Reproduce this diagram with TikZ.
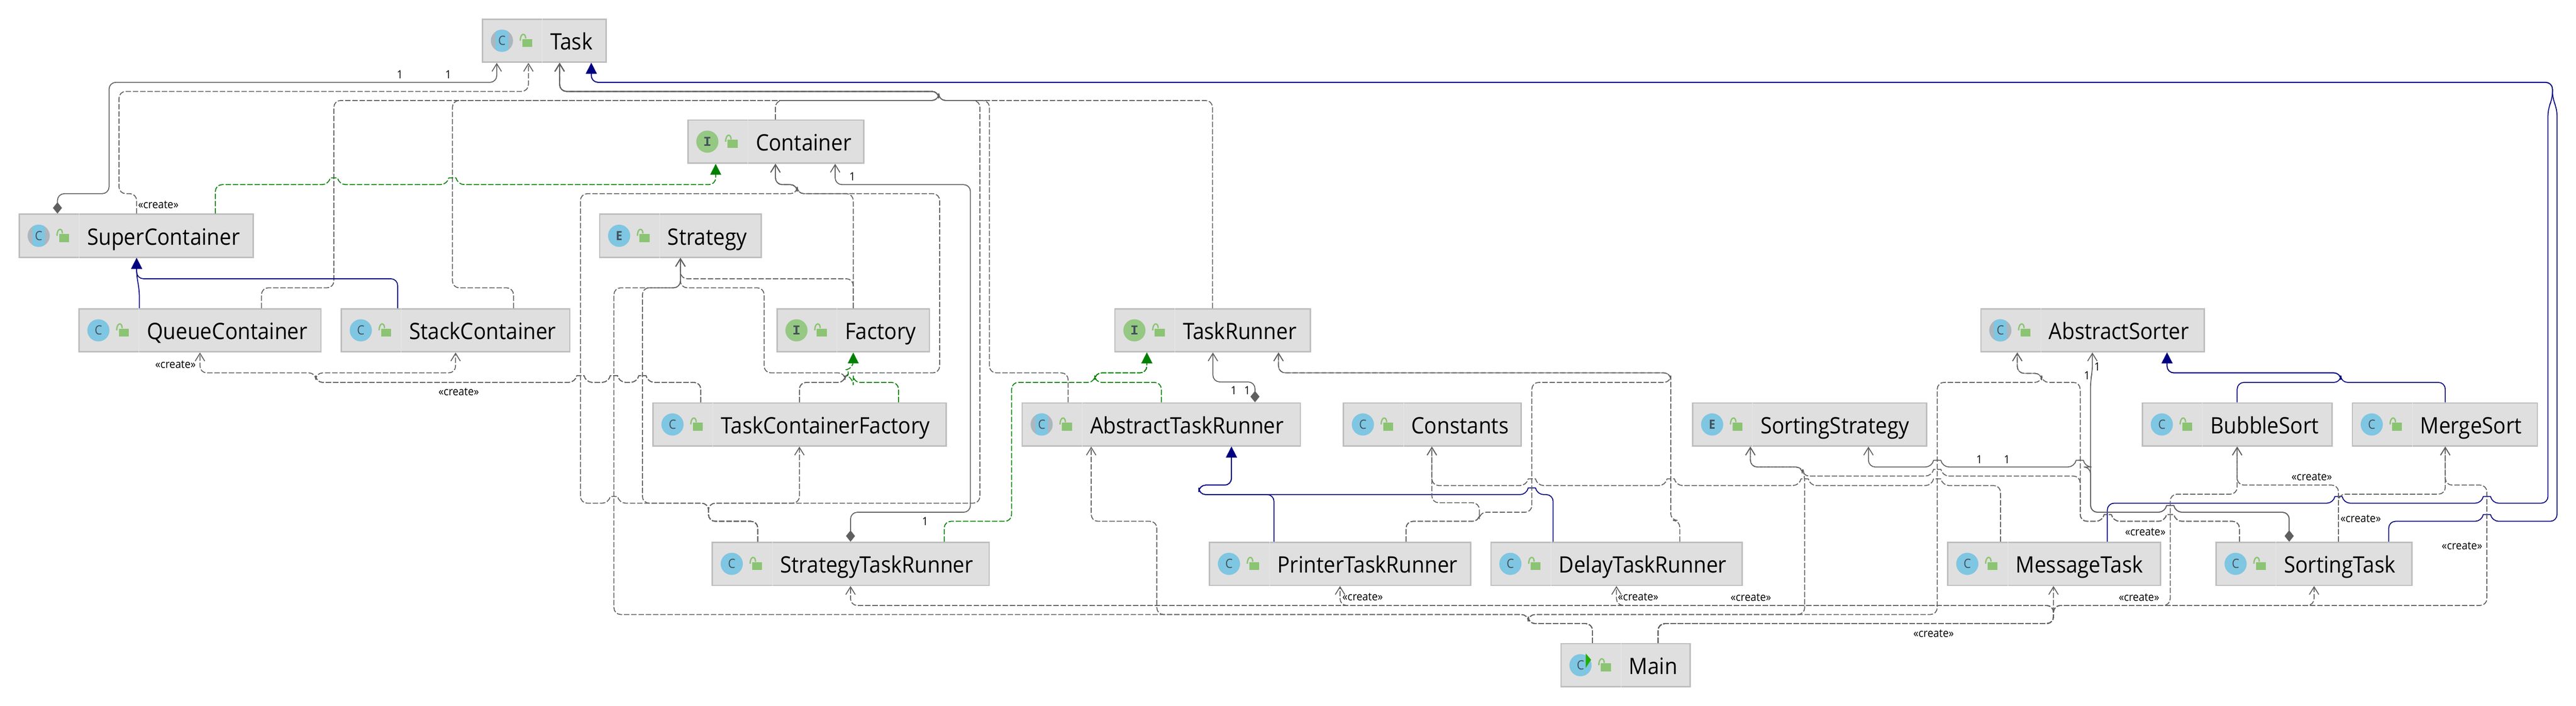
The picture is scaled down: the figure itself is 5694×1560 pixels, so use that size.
\documentclass[tikz,border=0pt]{standalone}
\usepackage{fontspec}
\setmainfont[FakeStretch=0.92]{Open Sans}
\newfontfamily\monoletter{Liberation Mono}
\usetikzlibrary{arrows.meta}

\definecolor{boxfill}{HTML}{DFDFDF}
\definecolor{boxline}{HTML}{BEBEBE}
\definecolor{boxdivider}{HTML}{E6E6E6}
\definecolor{edgegray}{HTML}{5F5F5F}
\definecolor{iconblue}{HTML}{7EC6E2}
\definecolor{icongreen}{HTML}{95C883}
\definecolor{icongray}{HTML}{ACB6BE}
\definecolor{letterink}{HTML}{43505A}
\definecolor{lockgreen}{HTML}{8BC473}
\definecolor{navyline}{HTML}{000080}
\definecolor{greenline}{HTML}{008000}

\tikzset{
  classbox/.style={draw=boxline, fill=boxfill, line width=3pt, inner sep=0pt},
  classname/.style={anchor=base west, inner sep=0pt, font=\fontsize{50}{60}\selectfont},
  classicon/.style={circle, fill=iconblue, minimum size=49pt, inner sep=0pt,
    text=letterink, font=\fontsize{28}{30}\selectfont},
  abstracticon/.style={classicon, fill=icongray, path picture={
    \fill[iconblue] ([xshift=-14pt,yshift=-30pt]path picture bounding box.center)
      rectangle ([xshift=14pt,yshift=30pt]path picture bounding box.center);}},
  interfaceicon/.style={classicon, fill=icongreen, font=\monoletter\bfseries\fontsize{30}{30}\selectfont},
  enumicon/.style={classicon, font=\bfseries\fontsize{28}{30}\selectfont},
  note/.style={inner sep=0pt, font=\fontsize{25}{28}\selectfont},
  dep/.style={draw=edgegray, line width=2pt, rounded corners=15pt,
    dash pattern=on 12pt off 4pt, -{Straight Barb[length=17pt,width=21pt,line width=2pt]}},
  comp/.style={draw=edgegray, line width=2pt, rounded corners=15pt,
    {Diamond[length=25pt,width=20pt,fill=edgegray]}-{Straight Barb[length=17pt,width=21pt,line width=2pt]}},
  ext/.style={draw=navyline, line width=2pt, rounded corners=15pt,
    -{Triangle[length=24pt,width=24pt,fill=navyline]}},
  impl/.style={draw=greenline, line width=2pt, rounded corners=15pt,
    dash pattern=on 12pt off 4pt, -{Triangle[length=24pt,width=24pt,fill=greenline]}},
}

\begin{document}
\begin{tikzpicture}[x=1pt,y=-1pt]
  \useasboundingbox (0,0) rectangle (5694,1560);

  % name, left, right, top, icon style, letter, label
  \newcommand\umlclass[7]{
    \node[classbox, minimum width={(#3-#2-3)*1pt}, minimum height=95pt]
      (#1) at ({(#2+#3)/2},#4+49) {};
    \draw[boxdivider, line width=1pt] ([xshift=134pt]#1.north west) -- ([xshift=134pt]#1.south west);
    \node[#5] (#1icon) at ([xshift=44.5pt]#1.west) {#6};
    \fill[lockgreen] ([xshift=89.5pt,yshift=4pt]#1.west) rectangle ([xshift=111.5pt,yshift=-14pt]#1.west);
    \draw[lockgreen, line width=3pt] ([xshift=85pt]#1.west)
      .. controls ([xshift=85pt,yshift=18pt]#1.west) and ([xshift=97pt,yshift=18pt]#1.west)
      .. ([xshift=97pt,yshift=5pt]#1.west);
    \node[classname] (#1label) at ([xshift=151.5pt,yshift=-20pt]#1.west) {#7};
  }
  % bump of a line over a crossing one: x, y, direction
  \newcommand\hump[3]{-- ({#1-#3*11},#2) .. controls ({#1-#3*8},#2-15) and ({#1+#3*8},#2-15) .. ({#1+#3*11},#2)}

  %% top rows
  \umlclass{Task}{1065}{1341}{41}{abstracticon}{C}{Task}
  \umlclass{Container}{1519}{1911}{264}{interfaceicon}{I}{Container}
  \umlclass{SuperContainer}{41}{561}{472}{abstracticon}{C}{SuperContainer}
  \umlclass{Strategy}{1324}{1684}{472}{enumicon}{E}{Strategy}
  \umlclass{QueueContainer}{173}{711}{681}{classicon}{C}{QueueContainer}
  \umlclass{StackContainer}{753}{1261}{681}{classicon}{C}{StackContainer}
  \umlclass{Factory}{1716}{2056}{681}{interfaceicon}{I}{Factory}
  \umlclass{TaskRunner}{2463}{2898}{681}{interfaceicon}{I}{TaskRunner}
  \umlclass{AbstractSorter}{4377}{4874}{681}{abstracticon}{C}{AbstractSorter}

  %% middle row
  \umlclass{TaskContainerFactory}{1442}{2093}{889}{classicon}{C}{TaskContainerFactory}
  \umlclass{AbstractTaskRunner}{2258}{2876}{889}{abstracticon}{C}{AbstractTaskRunner}
  \umlclass{Constants}{2968}{3364}{889}{classicon}{C}{Constants}
  \umlclass{SortingStrategy}{3740}{4260}{889}{enumicon}{E}{SortingStrategy}
  \umlclass{BubbleSort}{4734}{5156}{889}{classicon}{C}{BubbleSort}
  \umlclass{MergeSort}{5198}{5610}{889}{classicon}{C}{MergeSort}

  %% bottom rows
  \umlclass{StrategyTaskRunner}{1573}{2188}{1197}{classicon}{C}{StrategyTaskRunner}
  \umlclass{PrinterTaskRunner}{2672}{3252}{1197}{classicon}{C}{PrinterTaskRunner}
  \umlclass{DelayTaskRunner}{3294}{3852}{1197}{classicon}{C}{DelayTaskRunner}
  \umlclass{MessageTask}{4304}{4777}{1197}{classicon}{C}{MessageTask}
  \umlclass{SortingTask}{4897}{5333}{1197}{classicon}{C}{SortingTask}
  \umlclass{Main}{3449}{3737}{1421}{classicon}{C}{Main}
  \fill[green!60!black!80!lime] ([xshift=56pt,yshift=26pt]Main.west) -- ([xshift=68pt,yshift=12pt]Main.west)
    -- ([xshift=56pt,yshift=-6pt]Main.west) -- cycle;

  \newcommand\toTask{-- (2075,222) -- (2075,202) -- (1237,202) -- (1237,0 |- Task.south)}
  \newcommand\toContainer{-- (1762,428) -- (1762,408) -- (1714,408) -- (1714,0 |- Container.south)}
  \newcommand\toStrategy{-- (1504,0 |- Strategy.south)}
  \newcommand\strUp{(1675,0 |- StrategyTaskRunner.north) -- (1675,1152) -- (1566,1152) -- (1566,1112)}
  \newcommand\tcfLeft{(1549,0 |- TaskContainerFactory.north) -- (1549,845) \hump{1420}{845}{-1} \hump{1357}{845}{-1} \hump{1283}{845}{-1} -- (698,845) -- (698,824)}
  \newcommand\tcfRight{(1767,0 |- TaskContainerFactory.north) -- (1767,845) -- (1868,845) -- (1868,824)}
  \newcommand\mainLeft{(3520,0 |- Main.north) -- (3520,1378) -- (3378,1378) -- (3378,1358)}
  \newcommand\mainRight{(3665,0 |- Main.north) -- (3665,1378) -- (4539,1378) -- (4539,1338)}
  \newcommand\printerUp{(3108,0 |- PrinterTaskRunner.north) -- (3108,1152) -- (3270,1152)}
  \newcommand\sortingUp{(4950,0 |- SortingTask.north) -- (4950,1152) \hump{4797}{1152}{-1} \hump{4659}{1152}{-1} -- (4598,1152)}
  \newcommand\compUp{(5060,0 |- SortingTask.north) -- (5060,1132) \hump{4797}{1132}{-1} -- (4621,1132)}

  %% into Task
  \draw[comp] (127,0 |- SuperContainer.north) -- (127,428) -- (241,428) -- (241,182) -- (1098,182) -- (1098,0 |- Task.south);
  \draw[dep] (302,0 |- SuperContainer.north) -- (302,428) -- (263,428) -- (263,202) -- (1168,202) -- (1168,0 |- Task.south);
  \draw[dep] (578,0 |- QueueContainer.north) -- (578,636) -- (738,636) -- (738,222) \toTask;
  \draw[dep] (1135,0 |- StackContainer.north) -- (1135,636) -- (1000,636) -- (1000,222) \toTask;
  \draw[dep] (1714,0 |- Container.north) -- (1714,222) \toTask;
  \draw[dep] \strUp -- (2166,1112) -- (2166,222) \toTask;
  \draw[dep] (2361,0 |- AbstractTaskRunner.north) -- (2361,824) -- (2187,824) -- (2187,222) \toTask;
  \draw[dep] (2680,0 |- TaskRunner.north) -- (2680,222) \toTask;
  \draw[ext] (4658,0 |- MessageTask.north) -- (4658,1112) \hump{5169}{1112}{1} \hump{5497}{1112}{1} -- (5632,1112) -- (5632,240) -- (5642,218) -- (5642,182) -- (1307,182) -- (1307,0 |- Task.south);
  \draw[ext] (5280,0 |- SortingTask.north) -- (5280,1152) \hump{5497}{1152}{1} -- (5652,1152) -- (5652,240) -- (5642,218) -- (5642,182) -- (1307,182) -- (1307,0 |- Task.south);

  %% into Container
  \draw[impl] (476,0 |- SuperContainer.north) -- (476,408) \hump{738}{408}{1} \hump{1000}{408}{1} -- (1582,408) -- (1582,0 |- Container.south);
  \draw[dep] (1886,0 |- Factory.north) -- (1886,428) \toContainer;
  \draw[dep] \tcfRight -- (2077,824) -- (2077,428) \toContainer;
  \draw[dep] \strUp \hump{1357}{1112}{-1} -- (1283,1112) -- (1283,428) \toContainer;
  \draw[comp] (1880,0 |- StrategyTaskRunner.north) -- (1880,1132) -- (2145,1132) -- (2145,408) -- (1846,408) -- (1846,0 |- Container.south);

  %% into Strategy
  \draw[dep] (1886,0 |- Factory.north) -- (1886,616) -- (1504,616) \toStrategy;
  \draw[dep] \tcfRight -- (1689,824) -- (1689,636) -- (1504,636) \toStrategy;
  \draw[dep] \strUp -- (1420,1112) -- (1420,636) -- (1504,636) \toStrategy;
  \draw[dep] \mainLeft -- (1357,1358) -- (1357,636) -- (1504,636) \toStrategy;

  %% SuperContainer and TaskContainerFactory family
  \draw[ext] (308,0 |- QueueContainer.north) -- (308,640) -- (302,610) -- (302,0 |- SuperContainer.south);
  \draw[ext] (879,0 |- StackContainer.north) -- (879,616) -- (302,616) -- (302,0 |- SuperContainer.south);
  \draw[dep] \tcfLeft -- (442,824) -- (442,0 |- QueueContainer.south);
  \draw[dep] \tcfLeft -- (1007,824) -- (1007,0 |- StackContainer.south);
  \draw[impl] (1986,0 |- TaskContainerFactory.north) -- (1986,845) -- (1886,845) -- (1886,836) .. controls (1876,832) and (1876,816) .. (1886,814) -- (1886,0 |- Factory.south);
  \draw[dep] \strUp -- (1767,1112) -- (1767,0 |- TaskContainerFactory.south);

  %% TaskRunner family
  \draw[impl] (2087,0 |- StrategyTaskRunner.north) -- (2087,1152) -- (2236,1152) -- (2236,845) -- (2420,845) -- (2420,824) -- (2535,824) -- (2535,0 |- TaskRunner.south);
  \draw[impl] (2567,0 |- AbstractTaskRunner.north) -- (2567,845) -- (2420,845) -- (2420,824) -- (2535,824) -- (2535,0 |- TaskRunner.south);
  \draw[comp] (2774,0 |- AbstractTaskRunner.north) -- (2774,844) -- (2681,844) -- (2681,0 |- TaskRunner.south);
  \draw[ext] (2816,0 |- PrinterTaskRunner.north) -- (2816,1093) -- (2650,1093) -- (2650,1072) -- (2722,1072) -- (2722,0 |- AbstractTaskRunner.south);
  \draw[ext] (3433,0 |- DelayTaskRunner.north) -- (3433,1093) \hump{3386}{1093}{-1} -- (2650,1093) -- (2650,1072) -- (2722,1072) -- (2722,0 |- AbstractTaskRunner.south);
  \draw[dep] \printerUp -- (3270,1132) -- (3386,1132) -- (3386,845) -- (3693,845) -- (3693,824) -- (2826,824) -- (2826,0 |- TaskRunner.south);
  \draw[dep] (3713,0 |- DelayTaskRunner.north) -- (3713,1150) -- (3693,1150) -- (3693,824) -- (2826,824) -- (2826,0 |- TaskRunner.south);
  \draw[dep] \mainLeft -- (2557,1358) -- (2557,1152) -- (2412,1152) -- (2412,0 |- AbstractTaskRunner.south);

  %% Constants and SortingStrategy
  \draw[dep] \printerUp -- (3270,1111) -- (3165,1111) -- (3165,0 |- Constants.south);
  \draw[dep] (4422,0 |- MessageTask.north) -- (4422,1073) \hump{4282}{1073}{-1} \hump{3989}{1073}{-1} \hump{3693}{1073}{-1} \hump{3386}{1073}{-1} -- (3165,1073) -- (3165,0 |- Constants.south);
  \draw[dep] \sortingUp -- (4598,1052) \hump{4282}{1052}{-1} -- (3984,1052) -- (3984,1032) -- (3869,1032) -- (3869,0 |- SortingStrategy.south);
  \draw[dep] \mainLeft -- (3989,1358) -- (3989,1052) -- (3984,1032) -- (3869,1032) -- (3869,0 |- SortingStrategy.south);
  \draw[comp] \compUp -- (4621,1032) \hump{4597}{1032}{-1} \hump{4282}{1032}{-1} -- (4130,1032) -- (4130,0 |- SortingStrategy.south);

  %% AbstractSorter family
  \draw[dep] \mainLeft -- (4282,1358) -- (4282,845) -- (4513,845) -- (4513,825) -- (4459,825) -- (4459,0 |- AbstractSorter.south);
  \draw[dep] \sortingUp -- (4598,845) -- (4513,845) -- (4513,825) -- (4459,825) -- (4459,0 |- AbstractSorter.south);
  \draw[comp] \compUp -- (4621,840) -- (4625,820) -- (4625,0 |- AbstractSorter.south);
  \draw[ext] (4945,0 |- BubbleSort.north) -- (4945,845) -- (5174,845) -- (5174,824) -- (4790,824) -- (4790,0 |- AbstractSorter.south);
  \draw[ext] (5405,0 |- MergeSort.north) -- (5405,845) -- (5174,845) -- (5174,824) -- (4790,824) -- (4790,0 |- AbstractSorter.south);
  \draw[dep] (5169,0 |- SortingTask.north) -- (5169,1072) -- (4945,1072) -- (4945,0 |- BubbleSort.south);
  \draw[dep] (5169,0 |- SortingTask.north) -- (5169,1092) -- (5405,1092) -- (5405,0 |- MergeSort.south);

  %% out of Main along the bottom
  \draw[dep] \mainRight -- (4539,0 |- MessageTask.south);
  \draw[dep] \mainRight -- (1880,1338) -- (1880,0 |- StrategyTaskRunner.south);
  \draw[dep] \mainRight -- (2962,1338) -- (2962,0 |- PrinterTaskRunner.south);
  \draw[dep] \mainRight -- (3573,1338) -- (3573,0 |- DelayTaskRunner.south);
  \draw[dep] \mainRight -- (5115,1338) -- (5115,0 |- SortingTask.south);
  \draw[dep] \mainRight -- (4797,1338) -- (4797,1092) -- (4945,1092) -- (4945,0 |- BubbleSort.south);
  \draw[dep] \mainRight -- (5497,1338) -- (5497,1072) -- (5405,1072) -- (5405,0 |- MergeSort.south);

  %% multiplicities
  \node[note] (taskone) at (884,165) {1};
  \node[note] (tasktwo) at (991,165) {1};
  \node[note] (containerone) at (1884,390) {1};
  \node[note] (runnerone) at (2045,1152) {1};
  \node[note] (abstractone) at (2727,863) {1};
  \node[note] (abstracttwo) at (2757,863) {1};
  \node[note] (sortingone) at (4375,1015) {1};
  \node[note] (sortingtwo) at (4436,1015) {1};
  \node[note] (sorterone) at (4636,810) {1};
  \node[note] (sortertwo) at (4613,830) {1};

  %% create labels
  \node[note] (createsuper) at (350,452) {«create»};
  \node[note] (createqueue) at (388,805) {«create»};
  \node[note] (createstack) at (1014,866) {«create»};
  \node[note] (createprinter) at (3012,1319) {«create»};
  \node[note] (createdelay) at (3621,1319) {«create»};
  \node[note] (createstrategy) at (3870,1320) {«create»};
  \node[note] (createsorter) at (4274,1400) {«create»};
  \node[note] (createmessage) at (4728,1320) {«create»};
  \node[note] (createmerge) at (4742,1176) {«create»};
  \node[note] (createbubble) at (5110,1054) {«create»};
  \node[note] (createsorting) at (5218,1146) {«create»};
  \node[note] (createright) at (5442,1206) {«create»};
\end{tikzpicture}
\end{document}
